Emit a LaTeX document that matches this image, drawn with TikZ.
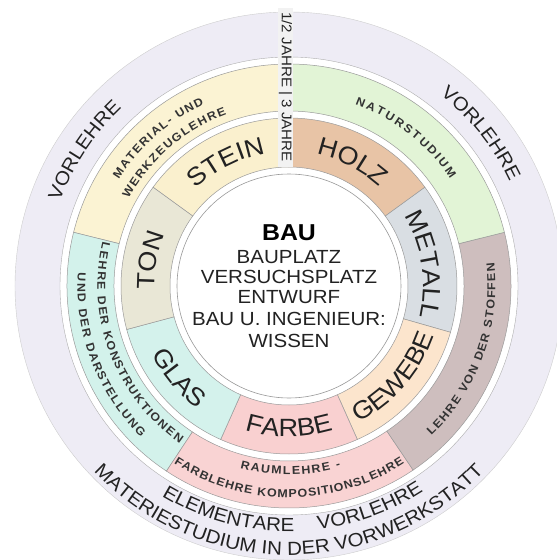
\documentclass[tikz,border=0pt]{standalone}
\usepackage{fontspec}
\setmainfont{Liberation Sans}[FakeStretch=1.08]
\usetikzlibrary{decorations.text}
\definecolor{lav}{HTML}{EEECF5}
\definecolor{matyel}{HTML}{FBF3D3}
\definecolor{natgreen}{HTML}{E2F4D6}
\definecolor{stoffbrown}{HTML}{CEBEBE}
\definecolor{raumpink}{HTML}{F9D3D3}
\definecolor{konscyan}{HTML}{D3F2EB}
\definecolor{steinyel}{HTML}{FAF0CE}
\definecolor{holzor}{HTML}{E8C4A6}
\definecolor{metallgr}{HTML}{D9DEE3}
\definecolor{gewebepe}{HTML}{FCE5CD}
\definecolor{farbepk}{HTML}{F9D0D0}
\definecolor{glascy}{HTML}{D4F2EC}
\definecolor{tonbg}{HTML}{E9E7D6}
\definecolor{edge}{HTML}{9A9A9A}
\definecolor{txt}{HTML}{222222}
\definecolor{smalltxt}{HTML}{333333}
\definecolor{striptint}{HTML}{F2F2F2}
\newcommand{\ringseg}[5]{%
  \filldraw[fill=#1, draw=edge, line width=0.5pt]
    (#2:#5pt) arc[start angle=#2, end angle=#3, radius=#5pt]
    -- (#3:#4pt) arc[start angle=#3, end angle=#2, radius=#4pt] -- cycle;}
\newcommand{\arctext}[6]{%
  \path[decorate, decoration={text along path, text color=txt,
      text={|#4|#5}, text align={#6}}]
    (#1:#3pt) arc[start angle=#1, end angle=#2, radius=#3pt];}
\newcommand{\fbig}{\fontsize{25}{25}\selectfont}
\newcommand{\fsmall}{\bfseries\fontsize{11.5}{11.5}\selectfont\color{smalltxt}}
\newcommand{\fouter}{\fontsize{19}{19}\selectfont}
\begin{document}
\begin{tikzpicture}
\useasboundingbox (-289pt,-274pt) rectangle (268pt,286pt);
\clip (-289pt,-274pt) rectangle (268pt,286pt);
% outer lavender ring
\fill[lav, even odd rule] (0,0) circle[radius=274pt] (0,0) circle[radius=229pt];
\draw[edge!50, line width=0.4pt] (0,0) circle[radius=274pt];
\draw[edge!80, line width=0.4pt] (0,0) circle[radius=229pt];
% middle ring
\ringseg{matyel}{90}{166}{175}{222}
\ringseg{konscyan}{166}{236.5}{175}{222}
\ringseg{raumpink}{236.5}{304}{175}{222}
\ringseg{stoffbrown}{-56}{14}{175}{222}
\ringseg{natgreen}{14}{90}{175}{222}
% inner ring
\ringseg{steinyel}{90}{144}{119}{168}
\ringseg{holzor}{36}{90}{119}{168}
\ringseg{metallgr}{-16}{36}{119}{168}
\ringseg{gewebepe}{-66}{-16}{119}{168}
\ringseg{farbepk}{-114}{-66}{119}{168}
\ringseg{glascy}{195}{246}{119}{168}
\ringseg{tonbg}{144}{195}{119}{168}
% centre disc
\filldraw[fill=white, draw=edge, line width=0.6pt] (0,0) circle[radius=112pt];
% years strip
\fill[striptint] (-11pt,119pt) rectangle (4pt,278pt);
\node[rotate=-90, text=txt, font=\fontsize{14}{14}\selectfont, inner sep=0pt] (years) at (-3.5pt,199pt) {1/2 JAHRE | 3 JAHRE};
% centre text
\node[anchor=base, text=black, font=\bfseries\fontsize{23}{23}\selectfont] (bau) at (0pt,46pt) {BAU};
\node[anchor=base, text=txt, font=\fontsize{19}{19}\selectfont] (bauplatz) at (0pt,23pt) {BAUPLATZ};
\node[anchor=base, text=txt, font=\fontsize{19}{19}\selectfont] (versuch) at (0pt,3pt) {VERSUCHSPLATZ};
\node[anchor=base, text=txt, font=\fontsize{19}{19}\selectfont] (entwurf) at (0pt,-17.5pt) {ENTWURF};
\node[anchor=base, text=txt, font=\fontsize{19}{19}\selectfont] (ingenieur) at (0pt,-39pt) {BAU U. INGENIEUR:};
\node[anchor=base, text=txt, font=\fontsize{19}{19}\selectfont] (wissen) at (0pt,-61pt) {WISSEN};
% inner ring labels
\arctext{160}{74}{134.5}{\fbig}{STEIN}{center}
\arctext{106}{20}{134.5}{\fbig}{HOLZ}{center}
\arctext{52}{-34}{134.5}{\fbig}{METALL}{center}
\arctext{212}{127}{134.5}{\fbig}{TON}{center}
\arctext{-85}{3}{153}{\fbig}{GEWEBE}{center}
\arctext{-130}{-50}{151}{\fbig}{FARBE}{center}
\arctext{180}{260}{153}{\fbig}{GLAS}{center}
% middle ring labels
\arctext{148}{115}{200.5}{\fsmall}{MATERIAL- UND}{fit to path}
\arctext{151.5}{110}{182.5}{\fsmall}{WERKZEUGLEHRE}{fit to path}
\arctext{70}{33.5}{193.5}{\fsmall}{NATURSTUDIUM}{fit to path}
\arctext{-46.4}{6.5}{206.5}{\fsmall}{LEHRE VON DER STOFFEN}{fit to path}
\arctext{166.7}{235.2}{191.5}{\fsmall}{LEHRE DER KONSTRUKTIONEN}{fit to path}
\arctext{176.4}{225.5}{211.5}{\fsmall}{UND DER DARSTELLUNG}{fit to path}
\arctext{255}{286}{188.5}{\fsmall}{RAUMLEHRE -}{fit to path}
\arctext{237}{303}{211.5}{\fsmall}{FARBLEHRE KOMPOSITIONSLEHRE}{fit to path}
% outer ring labels
\arctext{176}{117}{244}{\fouter}{VORLEHRE}{center}
\arctext{68}{9}{244}{\fouter}{VORLEHRE}{center}
\arctext{225}{285}{245.5}{\fouter}{ELEMENTARE}{center}
\arctext{260}{320}{245.5}{\fouter}{VORLEHRE}{center}
\arctext{200}{340}{269}{\fouter}{MATERIESTUDIUM IN DER VORWERKSTATT}{center}
\end{tikzpicture}
\end{document}
